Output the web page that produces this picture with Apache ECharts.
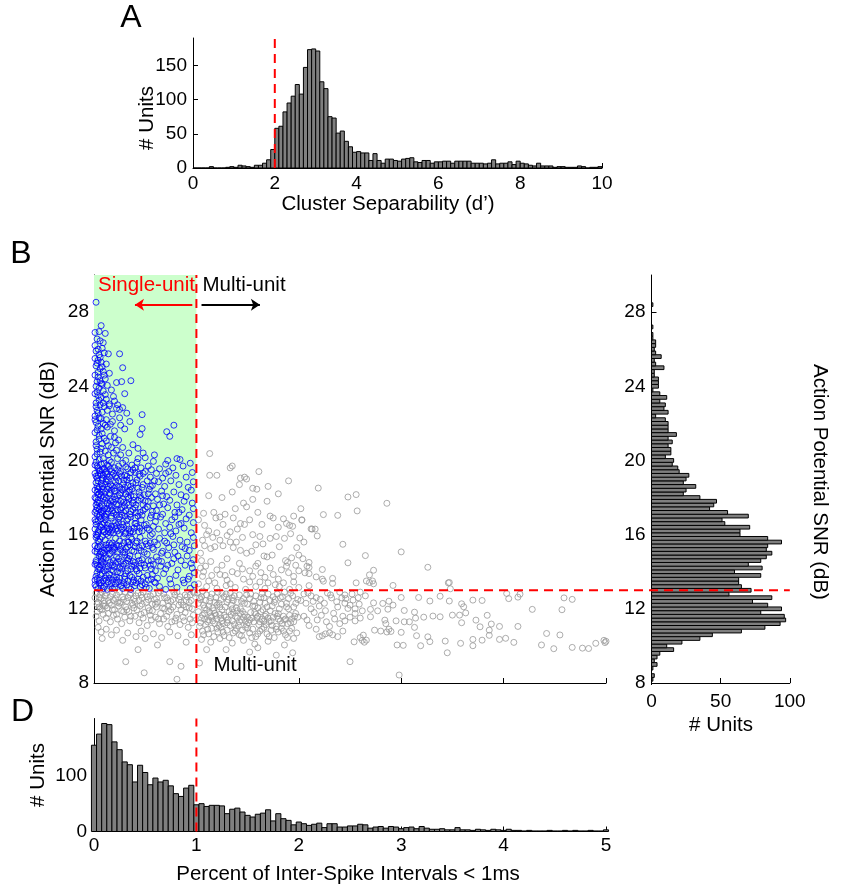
<!DOCTYPE html>
<html>
<head>
<meta charset="utf-8">
<script src="https://cdn.jsdelivr.net/npm/echarts/dist/echarts.min.js"></script>
<style>
  html, body { margin: 0; padding: 0; background: #fff; }
  #chart { width: 842px; height: 894px; }
</style>
</head>
<body>
<div id="chart"></div>
<script>
// A: cluster separability histogram, bins of 0.1 starting at 0
const sepBinWidth = 0.1
const sepCounts = [
  0, 0, 0, 0, 2, 0, 0, 0, 1, 2,
  1, 4, 3, 2, 1, 4, 4, 7, 12, 27,
  58, 61, 82, 95, 105, 122, 108, 147, 173, 174,
  171, 126, 116, 75, 73, 51, 54, 39, 31, 23,
  24, 22, 22, 11, 21, 11, 7, 13, 13, 11,
  10, 13, 14, 15, 9, 8, 11, 11, 7, 9,
  9, 10, 10, 7, 10, 10, 10, 10, 7, 7,
  7, 6, 7, 12, 6, 7, 7, 9, 5, 10,
  7, 6, 4, 3, 7, 3, 3, 3, 1, 2,
  2, 1, 1, 1, 3, 2, 0, 1, 1, 2
]
const sepThreshold = 2

// D: ISI violation histogram, bins centred on multiples of 0.05
const isiBinWidth = 0.05
const isiCounts = [
  155, 175, 194, 192, 161, 147, 125, 120, 89, 119,
  106, 84, 96, 89, 92, 82, 68, 63, 78, 83,
  48, 50, 45, 47, 47, 46, 32, 40, 42, 35,
  29, 26, 31, 33, 39, 19, 32, 23, 20, 12,
  17, 14, 11, 13, 15, 7, 14, 14, 8, 8,
  10, 10, 13, 12, 6, 8, 9, 6, 9, 8,
  5, 7, 8, 5, 9, 6, 4, 4, 5, 3,
  3, 7, 3, 3, 2, 4, 3, 2, 4, 3,
  2, 4, 2, 2, 1, 2, 1, 1, 1, 2,
  1, 1, 2, 1, 2, 1, 1, 2, 1, 1, 3
]
const isiThreshold = 1

// right: SNR histogram, bins of 0.2 dB centred from 8 dB
const snrBinStart = 8
const snrBinWidth = 0.2
const snrCounts = [
  0, 1, 2, 0, 1, 4, 2, 4, 6, 16,
  11, 22, 35, 44, 65, 82, 93, 97, 96, 79,
  94, 84, 73, 87, 56, 72, 65, 63, 63, 79,
  60, 80, 70, 79, 83, 87, 83, 84, 94, 84,
  64, 64, 71, 53, 51, 70, 55, 42, 45, 47,
  35, 23, 25, 32, 23, 25, 27, 20, 19, 15,
  16, 10, 14, 14, 12, 15, 12, 18, 12, 12,
  12, 10, 3, 12, 9, 10, 6, 11, 6, 1,
  5, 5, 5, 2, 2, 9, 3, 2, 7, 3,
  2, 3, 3, 1, 1, 0, 1, 0, 0, 0,
  0, 0, 1
]
const snrThreshold = 13

// B: [percent ISI < 1ms, SNR dB]
const singleUnit = [
  [0.02, 28.53], [0.07, 27.27], [0.01, 26.9], [0.05, 26.95], [0.11, 26.85], [0.03, 26.55], [0.06, 26.45], [0.09, 26.35],
  [0.01, 26.2], [0.04, 26.0], [0.08, 26.05], [0.14, 25.75], [0.25, 25.75],
  [0.02, 25.9], [0.05, 25.7], [0.1, 25.8], [0.01, 25.5], [0.04, 25.4], [0.07, 25.3], [0.12, 25.2], [0.28, 25.0],
  [0.02, 25.1], [0.06, 24.95], [0.09, 24.8], [0.15, 24.7], [0.01, 24.6], [0.04, 24.5], [0.11, 24.4], [0.03, 24.25],
  [0.07, 24.15], [0.22, 24.2], [0.27, 24.25], [0.36, 24.3], [0.02, 24.0], [0.13, 24.05], [0.05, 23.9], [0.3, 23.6],
  [0.09, 23.75], [0.17, 23.8],
  [0.01, 23.6], [0.04, 23.5], [0.07, 23.4], [0.12, 23.3], [0.2, 23.2], [0.02, 23.1], [0.06, 23.0], [0.1, 22.9],
  [0.15, 22.95], [0.22, 22.8], [0.25, 22.75], [0.28, 22.85], [0.03, 22.7], [0.08, 22.6], [0.18, 22.5], [0.47, 22.47],
  [0.32, 22.55], [0.01, 22.4], [0.05, 22.3], [0.12, 22.2], [0.25, 22.3], [0.02, 22.05], [0.09, 22.0], [0.16, 21.95],
  [0.35, 22.1],
  [0.04, 21.85], [0.07, 21.7], [0.13, 21.8], [0.2, 21.6], [0.3, 21.7], [0.47, 21.72], [0.45, 21.4], [0.71, 21.55],
  [0.78, 21.9], [0.74, 21.3], [0.01, 21.5], [0.05, 21.35], [0.1, 21.2], [0.16, 21.3], [0.24, 21.1], [0.02, 21.0],
  [0.08, 20.9], [0.14, 20.8], [0.21, 20.95], [0.28, 20.7], [0.38, 20.85], [0.03, 20.6], [0.06, 20.45], [0.11, 20.5],
  [0.19, 20.4], [0.26, 20.3], [0.34, 20.4], [0.43, 20.65], [0.48, 20.4], [0.5, 20.15], [0.43, 20.1], [0.59, 20.3],
  [0.72, 20.0], [0.84, 20.05], [0.81, 20.1], [0.01, 20.2], [0.05, 20.05], [0.09, 20.1], [0.15, 20.0], [0.23, 20.1],
  [0.31, 20.0],
  [0.02, 19.9], [0.04, 19.6], [0.07, 19.8], [0.1, 19.55], [0.13, 19.75], [0.17, 19.9], [0.2, 19.6], [0.24, 19.7],
  [0.28, 19.85], [0.33, 19.55], [0.37, 19.75], [0.42, 19.9], [0.46, 19.6], [0.53, 19.7], [0.58, 19.95], [0.64, 19.55],
  [0.7, 19.8], [0.77, 19.6], [0.87, 19.7], [0.94, 19.85],
  [0.01, 19.3], [0.03, 19.05], [0.06, 19.45], [0.09, 19.2], [0.12, 19.4], [0.15, 19.1], [0.19, 19.3], [0.22, 19.05],
  [0.26, 19.4], [0.3, 19.2], [0.35, 19.05], [0.4, 19.35], [0.45, 19.15], [0.5, 19.4], [0.55, 19.1], [0.61, 19.3],
  [0.67, 19.05], [0.73, 19.4], [0.8, 19.2], [0.9, 19.1], [0.96, 19.35],
  [0.02, 18.8], [0.05, 18.55], [0.08, 18.95], [0.11, 18.7], [0.14, 18.9], [0.18, 18.6], [0.21, 18.85], [0.25, 18.55],
  [0.29, 18.75], [0.32, 18.95], [0.36, 18.6], [0.41, 18.8], [0.47, 18.55], [0.52, 18.9], [0.57, 18.65], [0.63, 18.85],
  [0.69, 18.6], [0.75, 18.9], [0.83, 18.7], [0.92, 18.55], [0.97, 18.85],
  [0.01, 18.4], [0.04, 18.15], [0.07, 18.3], [0.1, 18.05], [0.13, 18.45], [0.16, 18.2], [0.2, 18.35], [0.23, 18.1],
  [0.27, 18.45], [0.31, 18.2], [0.35, 18.4], [0.39, 18.05], [0.44, 18.3], [0.49, 18.15], [0.54, 18.45], [0.6, 18.2],
  [0.66, 18.35], [0.71, 18.05], [0.78, 18.3], [0.85, 18.15], [0.95, 18.4],
  [0.02, 17.95], [0.05, 17.7], [0.08, 17.55], [0.11, 17.85], [0.15, 17.6], [0.18, 17.9], [0.22, 17.65], [0.26, 17.8],
  [0.3, 17.55], [0.34, 17.95], [0.38, 17.7], [0.43, 17.85], [0.48, 17.6], [0.53, 17.8], [0.58, 17.55], [0.62, 17.9],
  [0.68, 17.65], [0.74, 17.85], [0.81, 17.6], [0.88, 17.8], [0.96, 17.7],
  [0.01, 17.2], [0.03, 17.45], [0.06, 17.05], [0.09, 17.3], [0.12, 17.1], [0.16, 17.4], [0.19, 17.15], [0.23, 17.35],
  [0.27, 17.05], [0.31, 17.3], [0.35, 17.1], [0.4, 17.45], [0.45, 17.2], [0.5, 17.4], [0.56, 17.05], [0.61, 17.3],
  [0.67, 17.1], [0.72, 17.45], [0.79, 17.2], [0.86, 17.35], [0.93, 17.05], [0.97, 17.4],
  [0.02, 16.7], [0.05, 16.95], [0.08, 16.55], [0.11, 16.8], [0.14, 16.6], [0.17, 16.9], [0.21, 16.65], [0.24, 16.85],
  [0.28, 16.55], [0.32, 16.75], [0.36, 16.95], [0.41, 16.6], [0.46, 16.8], [0.51, 16.55], [0.55, 16.9], [0.6, 16.7],
  [0.65, 16.95], [0.7, 16.6], [0.76, 16.8], [0.83, 16.55], [0.9, 16.85], [0.97, 16.65],
  [0.01, 16.3], [0.04, 16.05], [0.07, 16.4], [0.1, 16.15], [0.13, 16.35], [0.16, 16.1], [0.2, 16.45], [0.23, 16.2],
  [0.26, 16.4], [0.3, 16.05], [0.34, 16.3], [0.38, 16.15], [0.42, 16.45], [0.47, 16.2], [0.52, 16.35], [0.57, 16.05],
  [0.63, 16.3], [0.69, 16.1], [0.74, 16.4], [0.8, 16.2], [0.88, 16.35], [0.95, 16.1],
  [0.02, 15.85], [0.05, 15.6], [0.08, 15.9], [0.11, 15.7], [0.14, 15.95], [0.18, 15.55], [0.21, 15.8], [0.25, 15.65],
  [0.29, 15.9], [0.33, 15.6], [0.37, 15.75], [0.41, 15.55], [0.45, 15.85], [0.5, 15.65], [0.55, 15.95], [0.59, 15.6],
  [0.64, 15.8], [0.71, 15.55], [0.77, 15.9], [0.84, 15.7], [0.91, 15.6], [0.97, 15.85],
  [0.01, 15.1], [0.04, 15.35], [0.07, 15.05], [0.1, 15.3], [0.13, 15.15], [0.17, 15.45], [0.2, 15.2], [0.24, 15.4],
  [0.28, 15.05], [0.31, 15.25], [0.35, 15.45], [0.39, 15.1], [0.44, 15.3], [0.49, 15.05], [0.53, 15.4], [0.58, 15.2],
  [0.62, 15.45], [0.67, 15.1], [0.73, 15.3], [0.79, 15.05], [0.86, 15.35], [0.93, 15.15], [0.98, 15.4],
  [0.02, 14.6], [0.05, 14.85], [0.08, 14.55], [0.12, 14.75], [0.15, 14.95], [0.19, 14.6], [0.22, 14.8], [0.26, 14.55],
  [0.3, 14.9], [0.34, 14.7], [0.38, 14.55], [0.43, 14.85], [0.47, 14.65], [0.52, 14.95], [0.56, 14.6], [0.61, 14.8],
  [0.66, 14.55], [0.72, 14.9], [0.78, 14.7], [0.85, 14.6], [0.91, 14.85], [0.97, 14.65],
  [0.01, 14.4], [0.04, 14.15], [0.07, 14.35], [0.1, 14.05], [0.14, 14.3], [0.17, 14.1], [0.21, 14.45], [0.25, 14.2],
  [0.29, 14.4], [0.33, 14.05], [0.37, 14.3], [0.41, 14.15], [0.46, 14.45], [0.5, 14.2], [0.55, 14.35], [0.6, 14.05],
  [0.65, 14.3], [0.7, 14.15], [0.76, 14.45], [0.82, 14.1], [0.89, 14.35], [0.96, 14.2],
  [0.02, 13.75], [0.05, 13.55], [0.08, 13.9], [0.11, 13.65], [0.15, 13.85], [0.18, 13.55], [0.22, 13.7], [0.26, 13.95],
  [0.3, 13.6], [0.35, 13.8], [0.39, 13.55], [0.44, 13.9], [0.48, 13.7], [0.53, 13.55], [0.57, 13.85], [0.62, 13.65],
  [0.68, 13.9], [0.74, 13.6], [0.8, 13.8], [0.87, 13.55], [0.93, 13.75], [0.98, 13.95],
  [0.01, 13.3], [0.04, 13.1], [0.07, 13.4], [0.1, 13.2], [0.13, 13.05], [0.17, 13.35], [0.2, 13.15], [0.24, 13.45],
  [0.28, 13.1], [0.32, 13.3], [0.36, 13.05], [0.41, 13.4], [0.45, 13.2], [0.5, 13.35], [0.54, 13.1], [0.59, 13.45],
  [0.64, 13.2], [0.7, 13.05], [0.75, 13.35], [0.81, 13.15], [0.88, 13.4], [0.94, 13.1], [0.98, 13.3],
  [0.03, 19.7], [0.06, 19.25], [0.12, 19.0], [0.16, 19.55], [0.09, 18.45], [0.03, 18.6], [0.15, 18.25], [0.19, 17.75],
  [0.04, 17.85], [0.1, 17.4], [0.07, 16.85], [0.13, 16.5], [0.18, 16.25], [0.02, 16.55], [0.06, 15.75], [0.12, 15.45],
  [0.16, 15.0], [0.03, 15.25], [0.09, 14.7], [0.18, 14.35], [0.23, 14.0], [0.06, 13.85], [0.14, 13.45], [0.03, 13.6],
  [0.27, 13.25], [0.11, 16.95], [0.2, 15.3], [0.24, 16.65], [0.27, 17.45], [0.05, 18.2], [0.21, 19.15], [0.1, 19.85],
  [0.33, 14.6], [0.36, 15.85], [0.31, 16.1], [0.4, 16.9], [0.29, 18.95], [0.37, 13.7], [0.42, 14.05], [0.34, 17.6],
  [0.01, 13.55], [0.03, 13.95], [0.05, 14.25], [0.02, 14.5], [0.06, 14.95], [0.01, 15.4], [0.04, 15.65], [0.02, 16.0],
  [0.05, 16.25], [0.01, 16.8], [0.03, 17.1], [0.05, 17.35], [0.02, 17.6], [0.01, 18.0], [0.04, 18.45], [0.02, 19.15],
  [0.05, 19.45], [0.01, 19.75], [0.03, 20.35], [0.02, 20.8], [0.05, 21.15], [0.03, 21.65], [0.01, 22.2], [0.04, 22.55],
  [0.02, 22.9], [0.05, 23.25], [0.03, 23.7], [0.06, 24.3], [0.04, 24.75], [0.03, 25.25], [0.06, 25.55], [0.08, 25.05],
  [0.1, 24.6], [0.08, 24.1], [0.11, 23.55], [0.09, 23.1], [0.13, 22.7], [0.07, 22.25], [0.11, 21.9], [0.08, 21.45],
  [0.12, 21.05], [0.07, 20.65], [0.14, 20.3], [0.17, 20.7], [0.2, 21.25], [0.18, 22.1], [0.15, 23.05], [0.19, 23.45],
  [0.23, 23.0], [0.26, 21.9], [0.22, 20.55],
  [0.07, 13.25], [0.09, 13.5], [0.12, 13.8], [0.16, 13.2], [0.19, 13.7], [0.21, 13.35], [0.25, 13.65], [0.29, 13.4],
  [0.31, 13.9], [0.34, 13.15], [0.38, 13.45], [0.43, 13.6], [0.47, 13.3],
  [0.06, 14.1], [0.09, 14.45], [0.13, 14.15], [0.16, 14.5], [0.2, 14.25], [0.24, 14.7], [0.27, 14.15], [0.31, 14.45],
  [0.35, 14.85], [0.39, 14.35], [0.44, 14.6], [0.49, 14.35],
  [0.07, 14.8], [0.1, 15.15], [0.14, 15.3], [0.18, 15.1], [0.22, 15.45], [0.26, 15.2], [0.29, 15.55], [0.33, 15.35],
  [0.37, 15.15], [0.42, 15.65], [0.47, 15.4],
  [0.03, 15.95], [0.09, 16.25], [0.12, 16.05], [0.15, 16.3], [0.19, 16.1], [0.22, 16.5], [0.27, 16.25], [0.32, 16.5],
  [0.36, 16.2], [0.4, 16.6], [0.45, 16.35],
  [0.04, 16.75], [0.08, 17.15], [0.14, 17.25], [0.17, 17.0], [0.21, 17.25], [0.25, 16.95], [0.29, 17.2], [0.33, 16.85],
  [0.38, 17.35], [0.43, 17.0], [0.48, 17.3],
  [0.06, 17.5], [0.09, 17.95], [0.13, 17.7], [0.17, 17.55], [0.2, 18.05], [0.24, 17.6], [0.28, 17.9], [0.32, 17.7],
  [0.36, 18.1], [0.41, 17.6], [0.46, 17.95],
  [0.03, 18.3], [0.07, 18.75], [0.11, 18.3], [0.14, 18.6], [0.17, 18.4], [0.22, 18.65], [0.26, 18.25], [0.3, 18.55],
  [0.34, 18.3], [0.38, 18.8], [0.43, 18.5],
  [0.08, 19.05], [0.11, 19.35], [0.14, 19.7], [0.18, 19.2], [0.23, 19.5], [0.27, 19.15], [0.31, 19.65], [0.36, 19.35],
  [0.4, 19.6], [0.44, 19.25],
  [0.52, 13.8], [0.56, 14.15], [0.6, 13.4], [0.63, 14.6], [0.66, 15.0], [0.69, 15.65], [0.72, 14.35], [0.75, 16.05],
  [0.78, 15.45], [0.82, 14.85], [0.85, 16.6], [0.89, 15.25], [0.92, 13.6], [0.95, 14.45], [0.55, 15.55], [0.58, 16.45],
  [0.61, 17.0], [0.64, 17.6], [0.67, 18.1], [0.53, 18.2], [0.59, 18.9], [0.7, 19.3], [0.83, 17.2], [0.9, 18.05],
  [0.79, 16.95],
  [0.02, 13.2], [0.05, 13.4], [0.09, 13.1], [0.12, 13.55], [0.15, 13.65], [0.18, 13.1], [0.22, 13.55], [0.26, 13.25],
  [0.3, 13.75], [0.33, 13.5], [0.4, 13.25], [0.46, 13.5], [0.51, 13.15], [0.56, 13.6],
  [0.03, 14.35], [0.07, 14.6], [0.11, 14.25], [0.14, 14.65], [0.19, 14.05], [0.23, 14.55], [0.28, 14.3], [0.32, 14.75],
  [0.36, 14.15], [0.4, 14.5], [0.45, 14.2], [0.53, 14.6], [0.58, 14.4],
  [0.03, 15.05], [0.06, 15.4], [0.09, 15.0], [0.12, 15.25], [0.15, 15.55], [0.19, 15.35], [0.23, 15.05], [0.27, 15.4],
  [0.3, 15.05], [0.34, 15.6], [0.4, 15.35], [0.46, 15.15], [0.51, 15.5], [0.57, 15.3],
  [0.04, 16.15], [0.06, 16.45], [0.1, 16.6], [0.14, 16.15], [0.17, 16.45], [0.21, 16.3], [0.25, 16.05], [0.29, 16.4],
  [0.35, 16.1], [0.39, 16.35], [0.44, 16.15], [0.49, 16.5], [0.54, 16.25],
  [0.02, 17.3], [0.07, 17.25], [0.1, 17.0], [0.13, 17.4], [0.18, 17.3], [0.22, 17.05], [0.26, 17.35], [0.3, 17.0],
  [0.36, 17.25], [0.41, 17.2], [0.47, 17.05], [0.52, 17.5], [0.57, 17.25],
  [0.03, 17.75], [0.07, 18.1], [0.12, 17.95], [0.16, 17.8], [0.21, 17.9], [0.25, 18.15], [0.29, 17.75], [0.33, 18.05],
  [0.39, 17.85], [0.45, 18.1], [0.5, 17.8], [0.56, 18.0],
  [0.04, 18.9], [0.08, 18.6], [0.12, 18.85], [0.16, 18.7], [0.2, 18.5], [0.24, 18.9], [0.28, 18.4], [0.33, 18.65],
  [0.37, 18.45], [0.42, 18.95], [0.48, 18.7], [0.55, 18.6],
  [0.04, 19.2], [0.08, 19.5], [0.13, 19.25], [0.17, 19.4], [0.25, 19.3], [0.32, 19.15], [0.38, 19.5], [0.48, 19.3],
  [0.56, 19.5]
]

const multiUnit = [
  // below threshold, x < 1
  [0.02, 12.85], [0.05, 12.6], [0.08, 12.9], [0.11, 12.7], [0.14, 12.45], [0.18, 12.8], [0.21, 12.55], [0.25, 12.9],
  [0.28, 12.65], [0.32, 12.4], [0.35, 12.75], [0.39, 12.55], [0.43, 12.85], [0.47, 12.6], [0.51, 12.35], [0.55, 12.7],
  [0.59, 12.5], [0.63, 12.85], [0.67, 12.3], [0.71, 12.6], [0.75, 12.4], [0.79, 12.75], [0.83, 12.5], [0.87, 12.2],
  [0.91, 12.65], [0.95, 12.45], [0.98, 12.85],
  [0.03, 12.25], [0.06, 12.0], [0.1, 12.3], [0.13, 12.05], [0.17, 12.2], [0.2, 11.95], [0.24, 12.15], [0.27, 11.9],
  [0.31, 12.1], [0.34, 11.85], [0.38, 12.2], [0.42, 11.95], [0.45, 12.15], [0.49, 11.8], [0.53, 12.05], [0.57, 11.9],
  [0.61, 12.1], [0.65, 11.75], [0.69, 12.0], [0.73, 11.85], [0.77, 12.1], [0.81, 11.7], [0.85, 11.95], [0.89, 11.8],
  [0.93, 12.05], [0.97, 11.65],
  [0.02, 11.6], [0.05, 11.35], [0.09, 11.7], [0.12, 11.5], [0.16, 11.3], [0.19, 11.65], [0.23, 11.45], [0.27, 11.2],
  [0.3, 11.55], [0.35, 11.35], [0.4, 11.6], [0.44, 11.25], [0.48, 11.5], [0.52, 11.1], [0.56, 11.4], [0.6, 11.55],
  [0.64, 11.2], [0.68, 11.45], [0.72, 11.05], [0.76, 11.3], [0.8, 11.5], [0.84, 11.15], [0.88, 11.35], [0.92, 11.0],
  [0.96, 11.25],
  [0.04, 11.0], [0.07, 10.75], [0.12, 10.9], [0.17, 10.6], [0.22, 10.85], [0.33, 10.7], [0.41, 10.5], [0.46, 10.8],
  [0.5, 10.4], [0.58, 10.65], [0.66, 10.45], [0.74, 10.75], [0.82, 10.55], [0.9, 10.2], [0.95, 10.6], [0.43, 9.8],
  [0.31, 9.15], [0.49, 8.55], [0.74, 9.15], [0.81, 8.2], [0.85, 8.9], [0.62, 10.05], [0.28, 10.3], [0.08, 10.4],
  [0.01, 12.6], [0.04, 12.35], [0.07, 12.55], [0.09, 12.15], [0.12, 12.85], [0.15, 12.3], [0.19, 12.45], [0.22, 12.75],
  [0.26, 12.35], [0.3, 12.9], [0.33, 12.6], [0.37, 12.3], [0.41, 12.7], [0.44, 12.45], [0.48, 12.9], [0.52, 12.65],
  [0.57, 12.25], [0.61, 12.55], [0.65, 12.95], [0.69, 12.6], [0.73, 12.15], [0.77, 12.5], [0.81, 12.9], [0.85, 12.35],
  [0.89, 12.75], [0.93, 12.35], [0.97, 12.9],
  [0.03, 11.85], [0.08, 11.95], [0.14, 11.75], [0.22, 11.7], [0.29, 11.85], [0.36, 11.6], [0.46, 11.7], [0.55, 11.65],
  [0.63, 11.45], [0.71, 11.6], [0.79, 11.35], [0.87, 11.55], [0.94, 11.45],
  [0.06, 12.75], [0.1, 12.45], [0.16, 12.65], [0.23, 12.35], [0.29, 12.5], [0.36, 12.85], [0.4, 12.4], [0.46, 12.75],
  [0.53, 12.5], [0.58, 12.8], [0.62, 12.35], [0.68, 12.8], [0.72, 12.45], [0.78, 12.9], [0.84, 12.65], [0.9, 12.45],
  [0.94, 12.75],
  [0.05, 12.1], [0.11, 12.15], [0.18, 11.95], [0.25, 12.3], [0.32, 11.95], [0.39, 12.05], [0.47, 12.25], [0.54, 11.9],
  [0.6, 12.25], [0.67, 12.05], [0.75, 11.95], [0.83, 12.2], [0.9, 12.1], [0.96, 12.0],
  // below threshold, 1 to 2
  [1.01, 12.85], [1.04, 12.5], [1.07, 12.2], [1.1, 12.75], [1.13, 12.4], [1.16, 12.05], [1.19, 12.6], [1.22, 12.3],
  [1.25, 12.85], [1.28, 12.1], [1.31, 12.5], [1.34, 12.2], [1.37, 12.7], [1.4, 12.35], [1.43, 12.0], [1.46, 12.55],
  [1.5, 12.25], [1.53, 12.8], [1.56, 12.4], [1.6, 12.05], [1.63, 12.6], [1.67, 12.3], [1.7, 12.8], [1.74, 12.15],
  [1.77, 12.5], [1.81, 12.0], [1.84, 12.65], [1.88, 12.3], [1.92, 12.85], [1.95, 12.1], [1.99, 12.5],
  [1.02, 11.85], [1.05, 11.5], [1.08, 11.75], [1.11, 11.3], [1.14, 11.6], [1.17, 11.9], [1.2, 11.45], [1.23, 11.7],
  [1.26, 11.2], [1.29, 11.55], [1.32, 11.85], [1.35, 11.35], [1.38, 11.6], [1.41, 11.1], [1.44, 11.4], [1.47, 11.7],
  [1.51, 11.25], [1.54, 11.5], [1.57, 11.8], [1.61, 11.15], [1.64, 11.45], [1.68, 11.7], [1.71, 11.3], [1.75, 11.55],
  [1.78, 11.05], [1.82, 11.35], [1.85, 11.6], [1.89, 11.2], [1.93, 11.45], [1.97, 11.75],
  [1.03, 11.05], [1.06, 10.8], [1.09, 11.15], [1.12, 10.65], [1.15, 10.95], [1.18, 11.2], [1.21, 10.75], [1.24, 11.0],
  [1.27, 10.55], [1.3, 10.85], [1.33, 11.1], [1.36, 10.7], [1.39, 10.95], [1.42, 10.6], [1.45, 10.85], [1.48, 11.0],
  [1.52, 10.7], [1.55, 10.9], [1.58, 10.5], [1.62, 10.8], [1.66, 11.0], [1.69, 10.65], [1.73, 10.85], [1.76, 10.45],
  [1.8, 10.75], [1.83, 10.95], [1.87, 10.6], [1.91, 10.8], [1.95, 10.4], [1.98, 10.7],
  [1.05, 10.35], [1.14, 10.2], [1.23, 10.4], [1.35, 10.15], [1.46, 10.3], [1.57, 10.1], [1.7, 10.25], [1.86, 10.05],
  [1.1, 9.8], [1.29, 9.8], [1.52, 9.67], [1.94, 9.63], [1.03, 9.08], [1.6, 9.9], [1.78, 9.5],
  [1.15, 11.55], [1.25, 11.95], [1.3, 12.35], [1.45, 11.85], [1.55, 12.15], [1.65, 11.95], [1.72, 11.9], [1.6, 11.6],
  [1.4, 11.9], [1.2, 12.2], [1.1, 11.95], [1.5, 11.55], [1.8, 11.75], [1.9, 12.0], [1.35, 12.6], [1.75, 12.65],
  [1.05, 12.65], [1.25, 11.35], [1.48, 11.35], [1.68, 11.15],
  [1.02, 12.3], [1.06, 12.95], [1.09, 12.45], [1.12, 12.15], [1.15, 12.8], [1.18, 12.35], [1.21, 12.9], [1.24, 12.5],
  [1.27, 12.65], [1.33, 12.85], [1.36, 12.45], [1.39, 12.05], [1.42, 12.75], [1.47, 12.3], [1.52, 12.55], [1.58, 12.7],
  [1.62, 12.35], [1.66, 12.6], [1.72, 12.45], [1.79, 12.8], [1.83, 12.25], [1.86, 12.9], [1.9, 12.55], [1.97, 12.3],
  [1.04, 11.25], [1.08, 11.45], [1.13, 11.8], [1.16, 11.35], [1.19, 11.65], [1.22, 11.1], [1.27, 11.65], [1.31, 11.4],
  [1.34, 11.7], [1.37, 11.15], [1.4, 11.5], [1.43, 11.75], [1.49, 11.15], [1.53, 11.8], [1.56, 11.3], [1.59, 11.5],
  [1.63, 11.85], [1.66, 11.35], [1.7, 11.5], [1.74, 11.1], [1.77, 11.75], [1.8, 11.45], [1.84, 11.2], [1.87, 11.45],
  [1.91, 11.65], [1.95, 11.3], [1.99, 11.55],
  [1.07, 10.6], [1.11, 10.9], [1.17, 10.5], [1.2, 10.95], [1.26, 10.75], [1.32, 10.45], [1.38, 10.8], [1.44, 10.55],
  [1.5, 10.95], [1.54, 10.45], [1.6, 10.65], [1.64, 10.9], [1.71, 10.5], [1.78, 10.9], [1.85, 10.8], [1.89, 10.45],
  [1.93, 10.95],
  [1.03, 12.6], [1.08, 12.05], [1.14, 12.6], [1.23, 12.1], [1.29, 12.8], [1.35, 12.0], [1.44, 12.4], [1.49, 12.75],
  [1.57, 12.15], [1.64, 12.8], [1.69, 12.1], [1.76, 12.35], [1.82, 12.6], [1.88, 12.1], [1.94, 12.7],
  [1.06, 11.65], [1.12, 11.4], [1.18, 11.75], [1.24, 11.5], [1.3, 11.25], [1.36, 11.8], [1.42, 11.3], [1.46, 11.55],
  [1.52, 11.4], [1.58, 11.7], [1.62, 11.3], [1.67, 11.6], [1.73, 11.35], [1.79, 11.6], [1.86, 11.4], [1.92, 11.25],
  [1.96, 11.6],
  // above threshold, 1 to 2.2
  [1.13, 20.37], [1.13, 19.2], [1.2, 19.2], [1.33, 19.6], [1.35, 19.7], [1.43, 19.05], [1.47, 19.1], [1.49, 19.0],
  [1.61, 19.4], [1.55, 18.5], [1.59, 18.45], [1.69, 17.8], [1.46, 17.7], [1.49, 17.5], [1.6, 17.2], [1.17, 17.2],
  [1.19, 16.9], [1.23, 16.95], [1.08, 16.5], [1.28, 17.1], [1.36, 16.9], [1.33, 16.15], [1.43, 16.6], [1.47, 16.55],
  [1.72, 17.0], [1.75, 16.9], [1.85, 16.85], [1.88, 16.6], [1.95, 17.0], [2.03, 16.8], [2.13, 16.3], [2.16, 16.3],
  [1.91, 16.5], [1.94, 16.45], [1.12, 16.2], [1.2, 16.1], [1.08, 15.4], [1.14, 15.25], [1.18, 15.35], [1.23, 15.7],
  [1.26, 15.4], [1.33, 15.6], [1.36, 15.3], [1.43, 15.15], [1.49, 15.0], [1.54, 15.1], [1.65, 15.5], [1.72, 15.8],
  [1.78, 15.9], [1.66, 14.85], [1.69, 14.8], [1.74, 14.9], [1.87, 14.6], [1.89, 14.5], [1.93, 14.75], [2.0, 14.9],
  [2.04, 14.7], [2.1, 14.5], [1.04, 15.0], [1.05, 14.6], [1.04, 14.2], [1.07, 14.0], [1.15, 13.8], [1.2, 14.1],
  [1.23, 13.85], [1.35, 14.0], [1.4, 13.9], [1.45, 14.15], [1.52, 14.05], [1.63, 13.95], [1.67, 13.7], [1.75, 13.85],
  [1.8, 13.6], [1.83, 14.1], [1.9, 13.95], [1.95, 13.75], [2.0, 14.05], [2.1, 13.9], [2.08, 14.3],
  [1.1, 13.2], [1.2, 13.1], [1.29, 13.25], [1.38, 13.15], [1.48, 13.05], [1.58, 13.2], [1.67, 13.1], [1.81, 13.2],
  [1.91, 13.05], [2.0, 13.15], [2.1, 13.25], [1.52, 13.45], [1.3, 13.55], [1.12, 13.5], [1.7, 13.4], [1.95, 13.45],
  [1.4, 16.3], [1.55, 16.0], [1.6, 14.45], [1.3, 14.7], [1.25, 18.0], [1.55, 17.9], [1.8, 18.2], [2.05, 15.6], [1.98, 15.3],
  [1.02, 13.35], [1.06, 13.75], [1.09, 14.3], [1.14, 14.55], [1.18, 13.4], [1.25, 14.35], [1.28, 13.8], [1.33, 13.35],
  [1.42, 14.45], [1.46, 13.6], [1.55, 13.75], [1.58, 14.3], [1.62, 13.45], [1.72, 14.2], [1.77, 13.3], [1.85, 13.4],
  [1.88, 14.3], [1.97, 14.35], [1.06, 15.7], [1.1, 16.0], [1.16, 15.85], [1.3, 15.95], [1.39, 15.6], [1.45, 15.85],
  [1.58, 15.45], [1.62, 15.9], [1.81, 15.35], [1.86, 15.8], [1.92, 16.05], [1.02, 16.8], [1.07, 17.15], [1.26, 16.55],
  [1.38, 17.4], [1.52, 16.8], [1.64, 16.55], [1.8, 16.4], [2.02, 17.4], [1.12, 18.1], [1.35, 18.3], [1.42, 18.7],
  [1.7, 18.6], [1.9, 18.9],
  // 2 to 5
  [2.19, 18.51], [2.48, 18.03], [2.56, 18.16], [2.86, 17.69], [2.24, 17.08], [2.38, 17.04], [2.57, 17.28], [2.03, 16.78],
  [2.12, 16.31], [2.18, 15.93], [2.01, 15.82], [2.43, 15.48], [3.0, 15.07], [2.65, 14.87], [2.48, 14.48], [3.26, 14.24],
  [2.1, 14.23], [2.06, 13.94], [2.23, 14.12], [2.17, 13.72], [2.33, 13.64], [2.33, 13.37], [2.23, 13.6], [2.24, 13.49],
  [2.69, 13.83], [2.73, 14.08], [2.66, 13.5], [2.69, 13.42], [2.72, 13.5], [2.73, 13.35], [2.56, 13.4], [2.92, 13.26],
  [3.46, 13.4], [3.47, 13.42], [3.48, 13.08],
  [4.03, 12.83], [4.05, 12.55], [4.14, 12.63], [4.16, 12.79], [4.59, 12.59], [4.67, 12.51], [3.17, 12.61], [3.28, 12.42],
  [3.38, 12.68], [3.47, 12.42], [3.59, 12.27], [3.61, 12.11], [3.7, 12.47], [3.79, 12.45], [3.0, 12.61], [4.28, 11.97],
  [4.57, 11.95], [3.84, 11.65], [3.03, 11.91], [3.13, 11.82], [3.14, 11.5], [3.22, 11.55], [3.31, 11.61], [3.38, 11.57],
  [3.5, 11.66], [3.57, 11.66], [3.63, 11.78], [3.59, 11.25], [3.73, 11.39], [3.77, 11.03], [3.88, 11.18], [3.96, 11.05],
  [4.14, 11.05], [3.86, 10.85], [3.86, 10.57], [3.96, 10.35], [4.02, 10.41], [4.1, 10.19], [4.37, 10.05], [4.42, 10.67],
  [4.49, 9.85], [4.55, 10.59], [4.67, 9.92], [4.77, 9.88], [4.83, 9.86], [4.9, 10.14], [4.98, 10.3], [4.99, 10.18],
  [5.0, 10.25], [3.43, 10.26], [3.45, 9.63], [3.58, 10.14], [3.7, 10.01], [3.7, 10.35], [3.79, 10.31], [3.19, 10.01],
  [3.28, 10.23], [3.26, 10.49], [3.15, 10.55], [2.96, 10.05], [3.02, 10.03], [2.98, 8.43], [2.5, 9.15], [2.54, 10.22],
  [2.66, 10.31], [2.63, 10.58], [2.74, 10.85], [2.8, 10.8], [2.86, 10.75], [2.9, 10.78], [3.0, 10.73], [3.03, 11.3],
  [2.95, 11.35], [3.08, 11.3], [3.13, 11.0], [2.85, 11.2], [2.88, 10.9], [2.84, 11.39], [2.87, 11.98], [2.77, 11.89],
  [2.7, 11.57], [2.92, 12.2], [2.88, 12.41], [2.82, 12.29], [2.73, 12.32], [2.7, 11.97], [2.62, 11.89], [2.59, 12.25],
  [2.53, 12.47], [2.42, 12.59], [2.48, 12.02], [2.32, 12.59], [2.37, 12.38], [2.21, 12.51], [2.14, 12.4], [2.07, 12.3],
  [2.34, 11.76], [2.26, 11.9], [2.27, 11.3], [2.15, 11.8], [2.18, 11.4], [2.1, 11.1], [2.17, 10.9], [2.35, 11.45],
  [2.4, 11.2], [2.43, 11.6], [2.5, 11.55], [2.55, 11.35], [2.6, 11.5], [2.3, 10.7], [2.33, 10.6], [2.38, 10.5],
  [2.43, 10.8], [2.2, 10.5], [2.23, 10.55], [2.26, 10.65], [2.6, 10.45], [2.62, 10.3], [2.64, 10.2],
  [2.05, 12.8], [2.12, 12.7], [2.28, 12.85], [2.4, 12.9], [2.45, 12.75], [2.52, 12.8], [2.6, 12.9], [2.65, 12.7],
  [2.2, 12.15], [2.45, 12.3], [2.55, 12.0], [2.05, 11.6], [2.12, 12.0],
  [2.02, 12.45], [2.09, 12.85], [2.17, 12.6], [2.25, 12.3], [2.31, 12.75], [2.38, 12.1], [2.46, 12.55], [2.5, 12.2],
  [2.58, 12.6], [2.08, 11.4], [2.22, 11.65], [2.3, 11.05], [2.45, 11.35], [2.55, 11.75]
]

const FONT = '"Liberation Sans", Arial, Helvetica, sans-serif'
const BAR_FILL = '#7f7f7f'
const RED = '#ff0000'

const sepData = sepCounts.map((c, i) => [i * sepBinWidth, (i + 1) * sepBinWidth, c])
const isiData = isiCounts.map((c, i) => [(i - 0.5) * isiBinWidth, (i + 0.5) * isiBinWidth, c])
const snrData = snrCounts.map((c, i) => [c, snrBinStart + (i - 0.5) * snrBinWidth, snrBinStart + (i + 0.5) * snrBinWidth])

function vBar (params, api) {
  const a = api.coord([api.value(0), api.value(2)])
  const b = api.coord([api.value(1), 0])
  return {
    type: 'rect',
    shape: { x: a[0], y: a[1], width: b[0] - a[0], height: b[1] - a[1] },
    style: { fill: BAR_FILL, stroke: '#000', lineWidth: 1 }
  }
}

function hBar (params, api) {
  const a = api.coord([0, api.value(2)])
  const b = api.coord([api.value(0), api.value(1)])
  return {
    type: 'rect',
    shape: { x: a[0], y: a[1], width: b[0] - a[0], height: b[1] - a[1] },
    style: { fill: BAR_FILL, stroke: '#000', lineWidth: 1 }
  }
}

function axis (opts) {
  return Object.assign({
    type: 'value',
    axisLine: { show: true, onZero: false, lineStyle: { color: '#000', width: 1 } },
    axisTick: { show: true, inside: true, length: 5, lineStyle: { color: '#000' } },
    axisLabel: { color: '#000', fontSize: 19, fontFamily: FONT, margin: 6 },
    splitLine: { show: false }
  }, opts)
}

function ticks (values) {
  return { show: true, inside: true, length: 5, lineStyle: { color: '#000' }, customValues: values }
}

function labels (values, margin) {
  return {
    color: '#000',
    fontSize: 19,
    fontFamily: FONT,
    margin,
    formatter: v => (values.indexOf(v) >= 0 ? String(v) : '')
  }
}

function dashed (data, xi, yi) {
  return {
    type: 'line',
    xAxisIndex: xi,
    yAxisIndex: yi,
    data,
    symbol: 'none',
    silent: true,
    lineStyle: { color: RED, width: 2, type: [9, 6] },
    z: 10
  }
}

function label (text, x, y, opts) {
  opts = opts || {}
  return {
    type: 'text',
    x,
    y,
    rotation: opts.rotation || 0,
    z: 100,
    style: {
      text,
      fill: opts.color || '#000',
      fontSize: opts.size || 20.5,
      fontFamily: FONT,
      align: 'center',
      verticalAlign: 'middle'
    }
  }
}

const chart = echarts.init(document.getElementById('chart'), null, { renderer: 'canvas' })

chart.setOption({
  animation: false,
  backgroundColor: '#fff',
  grid: [
    { left: 193, top: 38, width: 409, height: 130 },
    { left: 94, top: 275, width: 512, height: 408 },
    { left: 651.5, top: 275, width: 138.3, height: 408 },
    { left: 94, top: 718.5, width: 512, height: 113 }
  ],
  xAxis: [
    axis({ gridIndex: 0, min: 0, max: 10, interval: 2, axisLabel: labels([0, 2, 4, 6, 8, 10], 6) }),
    axis({ gridIndex: 1, min: 0, max: 5, interval: 1, axisLabel: { show: false } }),
    axis({ gridIndex: 2, min: 0, max: 100, interval: 50, axisLabel: labels([0, 50, 100], 9) }),
    axis({ gridIndex: 3, min: 0, max: 5, interval: 1, axisLabel: labels([0, 1, 2, 3, 4, 5], 5) })
  ],
  yAxis: [
    axis({ gridIndex: 0, min: 0, max: 190, interval: 50, axisTick: ticks([0, 50, 100, 150]), axisLabel: labels([0, 50, 100, 150], 6) }),
    axis({ gridIndex: 1, min: 8, max: 30, interval: 4, axisTick: ticks([8, 12, 16, 20, 24, 28]), axisLabel: labels([8, 12, 16, 20, 24, 28], 5) }),
    axis({ gridIndex: 2, min: 8, max: 30, interval: 4, axisTick: ticks([8, 12, 16, 20, 24, 28]), axisLabel: labels([8, 12, 16, 20, 24, 28], 6) }),
    axis({ gridIndex: 3, min: 0, max: 203, interval: 100, axisTick: ticks([0, 100]), axisLabel: labels([0, 100], 7) })
  ],
  series: [
    {
      type: 'custom',
      xAxisIndex: 0,
      yAxisIndex: 0,
      renderItem: vBar,
      encode: { x: [0, 1], y: 2 },
      data: sepData
    },
    dashed([[sepThreshold, 0], [sepThreshold, 190]], 0, 0),
    {
      type: 'scatter',
      xAxisIndex: 1,
      yAxisIndex: 1,
      data: multiUnit,
      symbol: 'circle',
      symbolSize: 6,
      itemStyle: { color: 'rgba(0,0,0,0)', borderColor: '#999999', borderWidth: 1 },
      silent: true
    },
    {
      type: 'scatter',
      xAxisIndex: 1,
      yAxisIndex: 1,
      data: singleUnit,
      symbol: 'circle',
      symbolSize: 6,
      itemStyle: { color: 'rgba(0,0,0,0)', borderColor: '#0000ff', borderWidth: 1 },
      silent: true,
      markArea: {
        silent: true,
        itemStyle: { color: '#ccffcc' },
        data: [[{ coord: [0, snrThreshold] }, { coord: [isiThreshold, 30] }]]
      },
      markLine: {
        silent: true,
        symbol: ['none', 'arrow'],
        symbolSize: 9,
        label: { show: false },
        data: [
          [{ coord: [0.96, 28.4], lineStyle: { color: RED, width: 2, type: 'solid' } }, { coord: [0.4, 28.4] }],
          [{ coord: [1.05, 28.4], lineStyle: { color: '#000', width: 2, type: 'solid' } }, { coord: [1.62, 28.4] }]
        ]
      }
    },
    dashed([[isiThreshold, 8], [isiThreshold, 30]], 1, 1),
    {
      type: 'custom',
      xAxisIndex: 2,
      yAxisIndex: 2,
      renderItem: hBar,
      encode: { x: 0, y: [1, 2] },
      data: snrData
    },
    {
      type: 'custom',
      xAxisIndex: 3,
      yAxisIndex: 3,
      renderItem: vBar,
      encode: { x: [0, 1], y: 2 },
      clip: false,
      data: isiData
    },
    dashed([[isiThreshold, 0], [isiThreshold, 203]], 3, 3)
  ]
})

// the SNR threshold runs from the scatter's left axis through the side histogram to its 100 tick
const lineStart = chart.convertToPixel({ gridIndex: 1 }, [0, snrThreshold])
const lineEnd = chart.convertToPixel({ gridIndex: 2 }, [100, snrThreshold])

chart.setOption({
  graphic: [
    {
      type: 'line',
      z: 90,
      silent: true,
      shape: { x1: lineStart[0], y1: lineStart[1], x2: lineEnd[0], y2: lineEnd[1] },
      style: { stroke: RED, lineWidth: 2, lineDash: [9, 6] }
    },
    label('A', 131, 18, { size: 32 }),
    label('B', 21, 254, { size: 32 }),
    label('D', 22.5, 712, { size: 32 }),
    label('# Units', 147, 118, { rotation: Math.PI / 2 }),
    label('Cluster Separability (d’)', 388, 204),
    label('Action Potential SNR (dB)', 48, 479, { rotation: Math.PI / 2 }),
    label('Single-unit', 146.5, 285, { color: RED }),
    label('Multi-unit', 244, 285),
    label('Multi-unit', 255, 665),
    label('Action Potential SNR (dB)', 820, 482, { rotation: -Math.PI / 2 }),
    label('# Units', 721, 725),
    label('# Units', 38.5, 775, { rotation: Math.PI / 2 }),
    label('Percent of Inter-Spike Intervals < 1ms', 348, 874)
  ]
})
</script>
</body>
</html>
